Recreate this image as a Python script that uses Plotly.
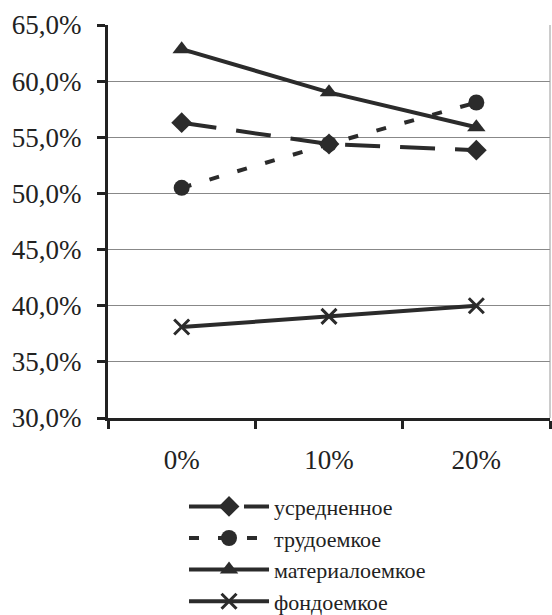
import plotly.graph_objects as go

categories = ["0%", "10%", "20%"]
usrednennoe = [56.3, 54.4, 53.85]
trudoemkoe = [50.5, 54.4, 58.1]
materialoemkoe = [62.85, 59.0, 55.9]
fondoemkoe = [38.1, 39.05, 40.0]
y_ticks = [30, 35, 40, 45, 50, 55, 60, 65]
y_tick_labels = ["30,0%", "35,0%", "40,0%", "45,0%", "50,0%", "55,0%", "60,0%", "65,0%"]

C = "#2b2b2b"
SERIF = "Liberation Serif"
fig = go.Figure()
fig.add_trace(go.Scatter(x=categories, y=usrednennoe, name="усредненное", mode="lines+markers",
                         line=dict(color=C, width=4, dash="35px,20px"),
                         marker=dict(symbol="diamond", size=16, color=C)))
fig.add_trace(go.Scatter(x=categories, y=trudoemkoe, name="трудоемкое", mode="lines+markers",
                         line=dict(color=C, width=4, dash="10px,19px"),
                         marker=dict(symbol="circle", size=16, color=C)))
fig.add_trace(go.Scatter(x=categories, y=materialoemkoe, name="материалоемкое", mode="lines+markers",
                         line=dict(color=C, width=4),
                         marker=dict(symbol="triangle-up", size=16, color=C)))
fig.add_trace(go.Scatter(x=categories, y=fondoemkoe, name="фондоемкое", mode="lines+markers",
                         line=dict(color=C, width=4),
                         marker=dict(symbol="x-thin", size=15, color=C, line=dict(color=C, width=3))))

fig.update_layout(
    width=552, height=615,
    margin=dict(l=108, r=2, t=25, b=197, autoexpand=False),
    paper_bgcolor="white", plot_bgcolor="white",
    font=dict(family=SERIF, color="#222"),
    showlegend=True,
    legend=dict(x=0.172, y=-0.172, xanchor="left", yanchor="top",
                font=dict(family=SERIF, size=22, color="#222"), itemwidth=80,
                tracegroupgap=0, bgcolor="rgba(0,0,0,0)"),
    xaxis=dict(type="category", range=[-0.5, 2.5], tickson="boundaries",
               ticks="outside", ticklen=8, tickwidth=3, tickcolor="#222",
               showline=True, linecolor="#222", linewidth=3,
               showgrid=False, tickfont=dict(family=SERIF, size=27),
               ticklabelstandoff=16),
    yaxis=dict(range=[30, 65], tickvals=y_ticks, ticktext=y_tick_labels,
               ticks="outside", ticklen=8, tickwidth=3, tickcolor="#222",
               showline=True, linecolor="#222", linewidth=3,
               showgrid=True, gridcolor="#888", gridwidth=1,
               tickfont=dict(family=SERIF, size=27), zeroline=False,
               ticklabelstandoff=10),
)
fig.add_shape(type="line", xref="paper", yref="paper", x0=1, x1=1, y0=0, y1=1,
              line=dict(color="#999", width=1))
fig.write_html("out.html", post_script="document.body.style.margin='0';",
               config={"displayModeBar": False})
